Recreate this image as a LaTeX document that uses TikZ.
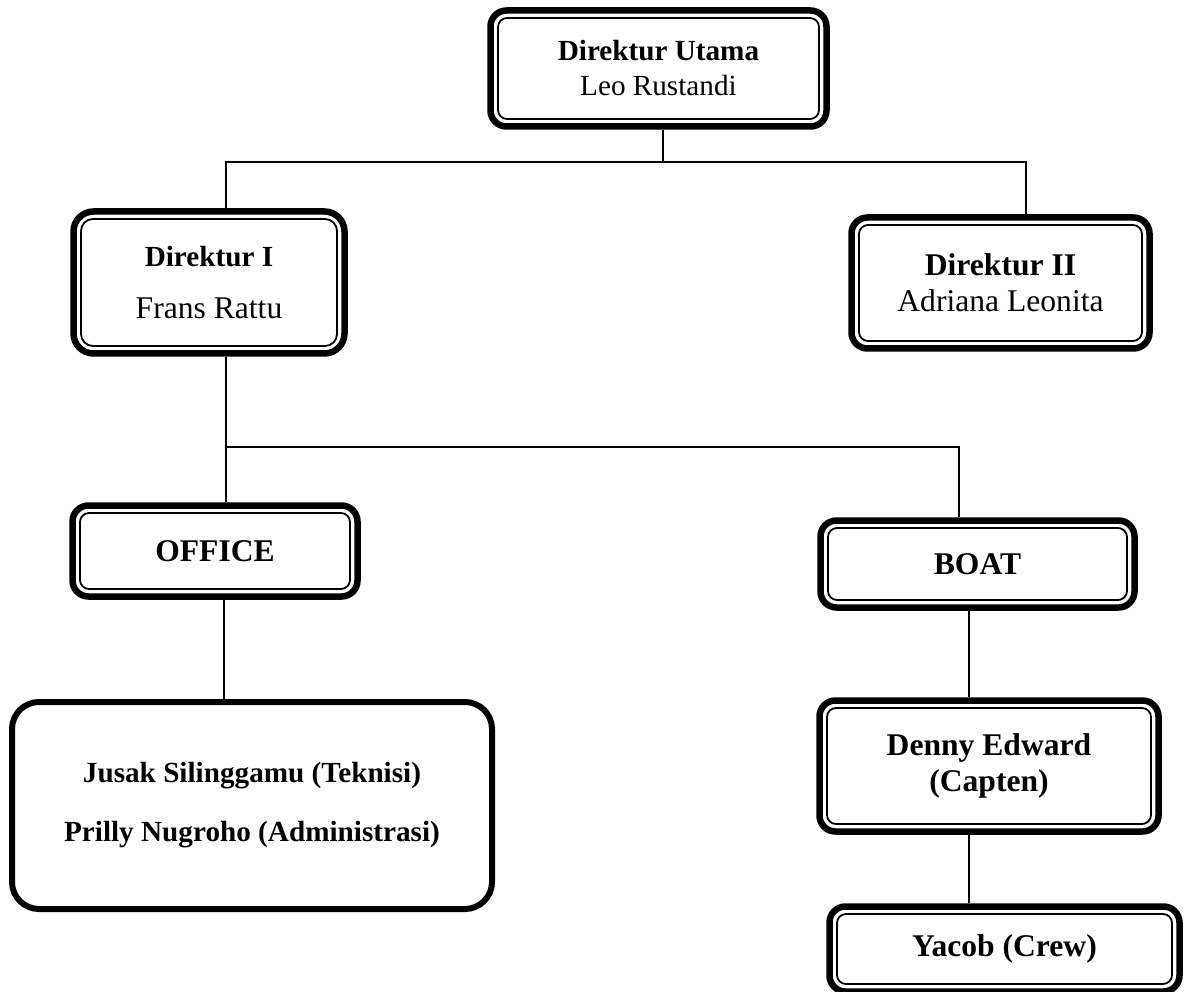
\documentclass[tikz,border=0pt]{standalone}
\usepackage{fontspec}
\setmainfont{Liberation Serif}
\begin{document}
\begin{tikzpicture}[x=1pt,y=-1pt,
  outer/.style={draw, line width=6.5pt, rounded corners=16pt, inner sep=0pt, align=center},
  single/.style={draw, line width=6pt, rounded corners=27pt, inner sep=0pt, align=center},
  innerln/.style={draw, line width=1.8pt, rounded corners=9pt, inner sep=0pt},
  conn/.style={line width=1.3pt},
  fa/.style={font=\fontsize{29.2}{35}\selectfont},
  fb/.style={font=\fontsize{31.6}{36}\selectfont}]
\useasboundingbox (0,0) rectangle (1187,992);

% boxes (outer thick border)
\node[outer, fa, minimum width=336pt, minimum height=116pt] (du) at (658.5,68.5)
  {\textbf{Direktur Utama}\\Leo Rustandi};
\node[outer, fa, minimum width=271pt, minimum height=142pt, rounded corners=20pt] (d1) at (209,282.5)
  {\textbf{Direktur I}\\[17pt]{\fontsize{31.6}{36}\selectfont Frans Rattu}};
\node[outer, fb, minimum width=298pt, minimum height=131pt] (d2) at (1000.5,283)
  {\textbf{Direktur II}\\Adriana Leonita};
\node[outer, fb, minimum width=285pt, minimum height=91pt] (off) at (215,551)
  {\textbf{OFFICE}};
\node[outer, fb, minimum width=314pt, minimum height=87pt] (boat) at (977.5,564)
  {\textbf{BOAT}};
\node[single, fa, minimum width=480pt, minimum height=207pt] (jus) at (252,805.5)
  {\textbf{Jusak Silinggamu (Teknisi)}\\[24pt]\textbf{Prilly Nugroho (Administrasi)}};
\node[outer, fb, minimum width=339pt, minimum height=131pt] (den) at (989,766)
  {\textbf{Denny Edward}\\\textbf{(Capten)}};
\node[outer, fb, minimum width=350pt, minimum height=85pt] (yac) at (1004.5,949)
  {\textbf{Yacob (Crew)}};

% inner thin borders
\node[innerln, minimum width=321pt, minimum height=101pt] (du-in) at (du.center) {};
\node[innerln, minimum width=256pt, minimum height=127pt, rounded corners=12pt] (d1-in) at (d1.center) {};
\node[innerln, minimum width=283pt, minimum height=116pt] (d2-in) at (d2.center) {};
\node[innerln, minimum width=270pt, minimum height=76pt] (off-in) at (off.center) {};
\node[innerln, minimum width=299pt, minimum height=72pt] (boat-in) at (boat.center) {};
\node[innerln, minimum width=324pt, minimum height=116pt] (den-in) at (den.center) {};
\node[innerln, minimum width=335pt, minimum height=70pt] (yac-in) at (yac.center) {};

% connectors
\coordinate (t1) at (663,162);
\coordinate (t1L) at (226,162);
\coordinate (t1R) at (1026,162);
\draw[conn] (du.south -| t1) -- (t1);
\draw[conn] (d1.north -| t1L) -- (t1L) -- (t1R) -- (d2.north -| t1R);

\coordinate (t2L) at (226,447);
\coordinate (t2R) at (959,447);
\draw[conn] (d1.south -| t2L) -- (t2L) -- (t2R) -- (boat.north -| t2R);
\draw[conn] (t2L) -- (off.north -| t2L);

\coordinate (t3) at (224,650);
\draw[conn] (off.south -| t3) -- (jus.north -| t3);

\coordinate (t4) at (969,650);
\draw[conn] (boat.south -| t4) -- (den.north -| t4);
\draw[conn] (den.south -| t4) -- (yac.north -| t4);
\end{tikzpicture}
\end{document}
